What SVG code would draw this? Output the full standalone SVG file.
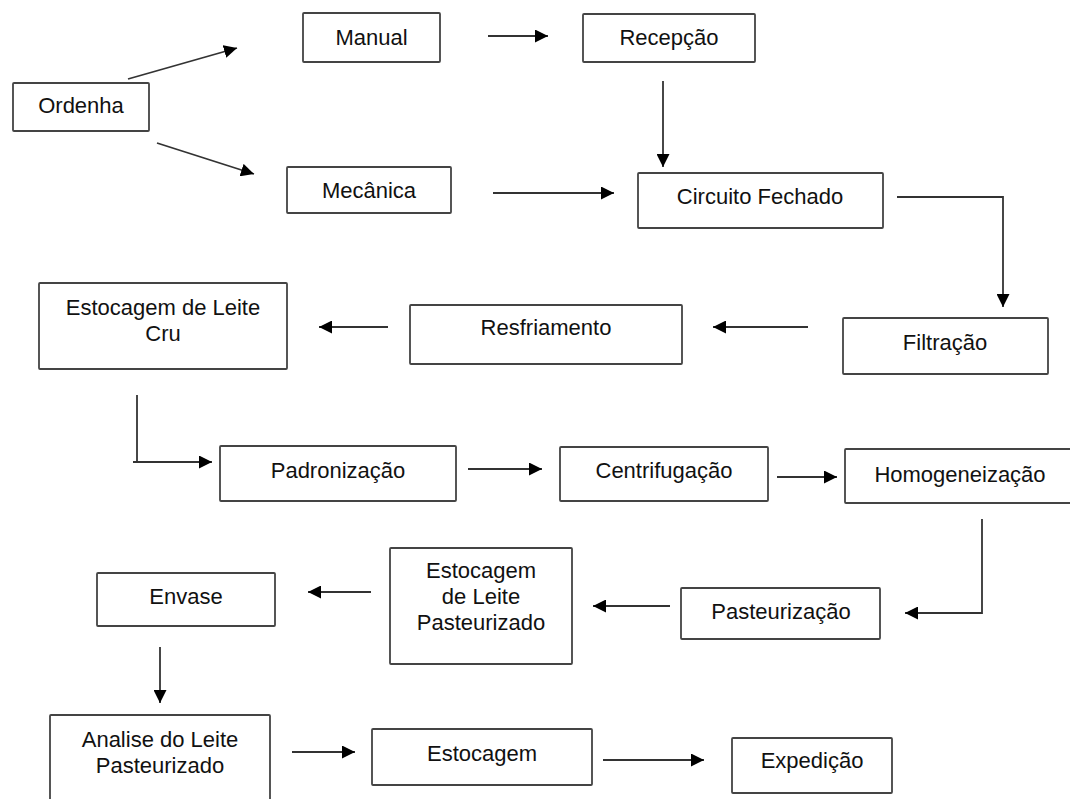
<svg xmlns="http://www.w3.org/2000/svg" width="1070" height="799" viewBox="0 0 1070 799">
<style>
.box{fill:#fff;stroke:#444;stroke-width:1.8}
.t{font-family:"Liberation Sans",Arial,sans-serif;font-size:22px;fill:#111;text-anchor:middle}
.c{fill:none;stroke:#333;stroke-width:1.8}
</style>
<defs>
<marker id="ah" markerUnits="userSpaceOnUse" markerWidth="13" markerHeight="13" refX="13" refY="6.5" orient="auto">
<path d="M0,0 L13,6.5 L0,13 z" fill="#000"/>
</marker>
</defs>
<rect width="1070" height="799" fill="#fff"/>
<g id="ordenha"><rect class="box" x="13" y="83" width="136" height="48" rx="1"/><text class="t" x="81" y="113">Ordenha</text></g>
<g id="manual"><rect class="box" x="303" y="13" width="137" height="49" rx="1"/><text class="t" x="371.5" y="45">Manual</text></g>
<g id="recepcao"><rect class="box" x="583" y="14" width="172" height="48" rx="1"/><text class="t" x="669" y="45">Recepção</text></g>
<g id="mecanica"><rect class="box" x="287" y="167" width="164" height="46" rx="1"/><text class="t" x="369" y="198">Mecânica</text></g>
<g id="circuito"><rect class="box" x="638" y="173" width="245" height="55" rx="1"/><text class="t" x="760" y="204">Circuito Fechado</text></g>
<g id="filtracao"><rect class="box" x="843" y="318" width="205" height="56" rx="1"/><text class="t" x="945" y="350">Filtração</text></g>
<g id="resfriamento"><rect class="box" x="410" y="305" width="272" height="59" rx="1"/><text class="t" x="546" y="335">Resfriamento</text></g>
<g id="estocagem-cru"><rect class="box" x="39" y="283" width="248" height="86" rx="1"/><text class="t" x="163" y="315">Estocagem de Leite</text><text class="t" x="163" y="341">Cru</text></g>
<g id="padronizacao"><rect class="box" x="220" y="446" width="236" height="55" rx="1"/><text class="t" x="338" y="478">Padronização</text></g>
<g id="centrifugacao"><rect class="box" x="560" y="447" width="208" height="54" rx="1"/><text class="t" x="664" y="478">Centrifugação</text></g>
<g id="homogeneizacao"><rect class="box" x="845" y="449" width="230" height="54" rx="1"/><text class="t" x="960" y="482">Homogeneização</text></g>
<g id="pasteurizacao"><rect class="box" x="681" y="588" width="199" height="51" rx="1"/><text class="t" x="781" y="619">Pasteurização</text></g>
<g id="estocagem-lp"><rect class="box" x="390" y="548" width="182" height="116" rx="1"/><text class="t" x="481" y="578">Estocagem</text><text class="t" x="481" y="604">de Leite</text><text class="t" x="481" y="630">Pasteurizado</text></g>
<g id="envase"><rect class="box" x="97" y="573" width="178" height="53" rx="1"/><text class="t" x="186" y="604">Envase</text></g>
<g id="analise"><rect class="box" x="50" y="715" width="220" height="100" rx="1"/><text class="t" x="160" y="747">Analise do Leite</text><text class="t" x="160" y="773">Pasteurizado</text></g>
<g id="estocagem"><rect class="box" x="372" y="729" width="220" height="56" rx="1"/><text class="t" x="482" y="761">Estocagem</text></g>
<g id="expedicao"><rect class="box" x="732" y="738" width="160" height="55" rx="1"/><text class="t" x="812" y="768">Expedição</text></g>
<g id="connectors">
<path class="c" d="M128,79 L237,48" marker-end="url(#ah)"/>
<path class="c" d="M157,143 L254,174" marker-end="url(#ah)"/>
<path class="c" d="M488,36 L548,36" marker-end="url(#ah)"/>
<path class="c" d="M663,81 L663,167" marker-end="url(#ah)"/>
<path class="c" d="M493,193 L614,193" marker-end="url(#ah)"/>
<path class="c" d="M897,197 L1003,197 L1003,307" marker-end="url(#ah)"/>
<path class="c" d="M808,327 L713,327" marker-end="url(#ah)"/>
<path class="c" d="M388,327 L319,327" marker-end="url(#ah)"/>
<path class="c" d="M137,395 L137,462"/>
<path class="c" d="M133,462 L212,462" marker-end="url(#ah)"/>
<path class="c" d="M468,469 L542,469" marker-end="url(#ah)"/>
<path class="c" d="M777,477 L837,477" marker-end="url(#ah)"/>
<path class="c" d="M982,519 L982,613 L905,613" marker-end="url(#ah)"/>
<path class="c" d="M670,606 L593,606" marker-end="url(#ah)"/>
<path class="c" d="M371,592 L308,592" marker-end="url(#ah)"/>
<path class="c" d="M160,647 L160,703" marker-end="url(#ah)"/>
<path class="c" d="M292,752 L355,752" marker-end="url(#ah)"/>
<path class="c" d="M603,760 L704,760" marker-end="url(#ah)"/>
</g>
</svg>
